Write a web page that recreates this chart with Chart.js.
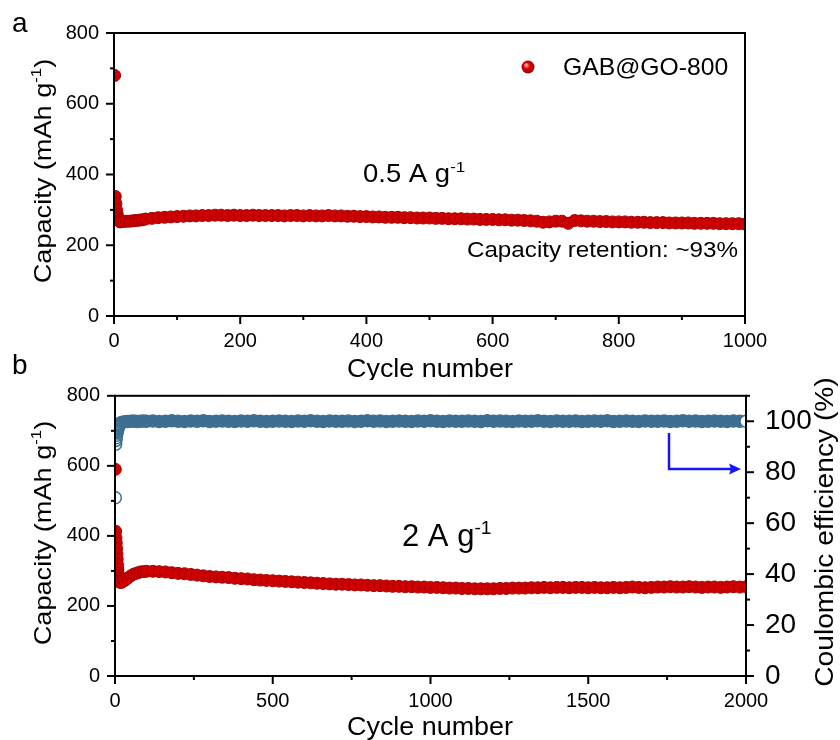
<!DOCTYPE html>
<html>
<head>
<meta charset="utf-8">
<script src="https://cdn.jsdelivr.net/npm/chart.js@4.4.0/dist/chart.umd.min.js"></script>
<style>
  html, body { margin: 0; padding: 0; background: #fff; }
  #wrap { position: relative; width: 840px; height: 740px; overflow: hidden; }
  .panel { position: absolute; left: 0; width: 840px; height: 380px; }
</style>
</head>
<body>
<div id="wrap">
  <div class="panel" style="top:0"><canvas id="chartA" width="840" height="380"></canvas></div>
  <div class="panel" style="top:360px"><canvas id="chartB" width="840" height="380"></canvas></div>
</div>
<script>
// ---- Data ----
// Panel a: 0.5 A g-1, 1000 cycles
const cyclesA = [1, 2, 3, 4, 5, 6, 7, 8, 9, 10, 15, 20, 25, 30, 35, 40, 45, 50,
  60, 70, 80, 90, 100, 110, 120, 130, 140, 150,
  160, 170, 180, 190, 200, 210, 220, 230, 240, 250,
  260, 270, 280, 290, 300, 310, 320, 330, 340, 350,
  360, 370, 380, 390, 400, 410, 420, 430, 440, 450,
  460, 470, 480, 490, 500, 510, 520, 530, 540, 550,
  560, 570, 580, 590, 600, 610, 620, 630, 640, 650,
  660, 670, 680, 690, 700, 710, 720, 730, 740, 750,
  760, 770, 780, 790, 800, 810, 820, 830, 840, 850,
  860, 870, 880, 890, 900, 910, 920, 930, 940, 950,
  960, 970, 980, 990, 1000];
const capacityA = [680, 338, 318, 300, 288, 280, 274, 270, 267, 266, 267, 268, 268, 269, 270, 271, 272, 274,
  276, 278, 279, 280, 281, 282, 283, 283, 284, 284,
  285, 285, 284, 285, 284, 284, 285, 284, 284, 284,
  284, 283, 284, 284, 283, 284, 283, 283, 284, 283,
  283, 282, 282, 281, 281, 280, 280, 279, 279, 279,
  278, 278, 277, 277, 277, 276, 276, 275, 275, 275,
  274, 274, 273, 273, 273, 272, 272, 271, 271, 270,
  269, 268, 265, 266, 268, 268, 262, 270, 269, 268,
  268, 267, 267, 266, 266, 266, 265, 265, 265, 264,
  264, 264, 263, 263, 263, 263, 262, 262, 262, 262,
  261, 261, 261, 261, 260];

// Panel b: 2 A g-1, 2000 cycles
const cyclesB = [1, 2, 3, 4, 5, 6, 7, 8, 9, 10, 11, 12, 13, 14, 15,
  20, 30, 40, 50, 60, 70, 80, 90, 100,
  120, 140, 160, 180, 200, 220, 240, 260, 280, 300,
  320, 340, 360, 380, 400, 420, 440, 460, 480, 500,
  520, 540, 560, 580, 600, 620, 640, 660, 680, 700,
  720, 740, 760, 780, 800, 820, 840, 860, 880, 900,
  920, 940, 960, 980, 1000, 1020, 1040, 1060, 1080, 1100,
  1120, 1140, 1160, 1180, 1200, 1220, 1240, 1260, 1280, 1300,
  1320, 1340, 1360, 1380, 1400, 1420, 1440, 1460, 1480, 1500,
  1520, 1540, 1560, 1580, 1600, 1620, 1640, 1660, 1680, 1700,
  1720, 1740, 1760, 1780, 1800, 1820, 1840, 1860, 1880, 1900,
  1920, 1940, 1960, 1980, 2000];
const capacityB = [590, 413, 395, 380, 364, 348, 333, 318, 305, 294, 285, 278, 273, 270, 268,
  267, 272, 279, 286, 291, 294, 297, 298, 299,
  299, 298, 297, 295, 293, 292, 290, 288, 286, 284,
  283, 282, 281, 279, 278, 277, 275, 274, 273, 272,
  271, 270, 269, 268, 267, 266, 265, 264, 263, 262,
  262, 261, 260, 260, 259, 258, 258, 257, 256, 256,
  255, 255, 254, 254, 253, 253, 252, 251, 251, 250,
  250, 249, 249, 249, 249, 250, 250, 251, 251, 251,
  252, 252, 253, 252, 253, 253, 252, 253, 253, 252,
  253, 252, 252, 253, 252, 253, 254, 253, 252, 253,
  254, 254, 255, 254, 254, 255, 254, 253, 254, 254,
  253, 254, 255, 254, 255];
const efficiencyB = [70, 91, 92.5, 93.5, 94.5, 95.5, 96, 96.5, 97, 97.5, 98, 98.3, 98.6, 98.9, 99.1,
  99.5, 99.8, 99.9, 100, 100.1, 99.9, 100, 100.1, 100,
  100.1, 99.9, 100, 100.2, 100, 99.9, 100.1, 100, 100.2, 99.9,
  100, 100.1, 100, 99.9, 100.1, 100, 100.2, 100, 99.9, 100,
  100.1, 100, 99.9, 100.1, 100, 100.2, 100, 99.9, 100.1, 100,
  100, 100.1, 99.9, 100, 100.2, 100, 100.1, 99.9, 100, 100.1,
  100, 99.9, 100.1, 100, 100.2, 100, 99.9, 100.1, 100, 100,
  100.1, 100, 99.9, 100.2, 100, 100.1, 100, 99.9, 100.1, 100,
  100, 100.2, 100, 99.9, 100.1, 100, 100, 100.1, 99.9, 100,
  100.1, 100, 100.2, 99.9, 100, 100.1, 100, 99.9, 100.1, 100,
  100, 100.1, 99.9, 100, 100.2, 100, 100.1, 99.9, 100, 100.1,
  100, 99.9, 100.1, 100, 100];

// ---- Style ----
const FONT = '"Liberation Sans", Arial, Helvetica, sans-serif';
const RED = '#d00000';
const RED_EDGE = '#a00000';
const BLUE = '#3d6f93';

const toPoints = (xs, ys) => xs.map((x, i) => ({ x, y: ys[i] }));

// Text with optional superscript parts, stretched along its reading direction
function drawRich(ctx, parts, x, y, o) {
  const size = o.size;
  ctx.save();
  ctx.translate(x, y);
  if (o.rot) ctx.rotate(o.rot);
  ctx.scale(o.stretch || 1, 1);
  ctx.fillStyle = '#000';
  ctx.textBaseline = 'alphabetic';
  ctx.textAlign = 'left';
  let w = 0;
  const items = parts.map(p => {
    const s = p.sup ? size * 0.62 : size;
    ctx.font = s + 'px ' + FONT;
    const pw = ctx.measureText(p.t).width;
    w += pw;
    return { t: p.t, s, pw, dy: p.sup ? -size * 0.4 : 0 };
  });
  let cx = o.align === 'center' ? -w / 2 : o.align === 'right' ? -w : 0;
  items.forEach(it => {
    ctx.font = it.s + 'px ' + FONT;
    ctx.fillText(it.t, cx, it.dy);
    cx += it.pw;
  });
  ctx.restore();
}

// Frame box + outward major/minor ticks from the chart's own scales
const framePlugin = {
  id: 'frame',
  afterDraw(chart) {
    const { ctx, chartArea: a } = chart;
    ctx.save();
    ctx.strokeStyle = '#000';
    ctx.lineWidth = 2;
    ctx.strokeRect(a.left, a.top, a.right - a.left, a.bottom - a.top);
    Object.values(chart.scales).forEach(sc => {
      sc.ticks.forEach(t => {
        const len = t.label === '' ? 4 : 8;
        const p = sc.getPixelForValue(t.value);
        ctx.beginPath();
        if (sc.axis === 'x') { ctx.moveTo(p, a.bottom); ctx.lineTo(p, a.bottom + len); }
        else if (sc.position === 'left') { ctx.moveTo(a.left, p); ctx.lineTo(a.left - len, p); }
        else { ctx.moveTo(a.right, p); ctx.lineTo(a.right + len, p); }
        ctx.stroke();
      });
    });
    ctx.restore();
  }
};

function xAxis(max, step, every) {
  return {
    type: 'linear', min: 0, max: max,
    grid: { display: false, drawTicks: false, tickLength: 0 },
    border: { display: false },
    ticks: {
      stepSize: step, autoSkip: false, maxRotation: 0, padding: 13,
      color: '#000', font: { family: FONT, size: 20 },
      callback: v => (v % every === 0 ? v : '')
    },
    afterFit: s => { s.height = 64; }
  };
}

function yAxis() {
  return {
    type: 'linear', position: 'left', min: 0, max: 800,
    grid: { display: false, drawTicks: false, tickLength: 0 },
    border: { display: false },
    ticks: {
      stepSize: 100, autoSkip: false, padding: 15,
      color: '#000', font: { family: FONT, size: 20 },
      callback: v => (v % 200 === 0 ? v : '')
    },
    afterFit: s => { s.width = 114; }
  };
}

const capTitle = [{ t: 'Capacity (mAh g' }, { t: '-1', sup: true }, { t: ')' }];

// ---- Panel a ----
const textA = {
  id: 'textA',
  afterDraw(chart) {
    const ctx = chart.ctx;
    drawRich(ctx, [{ t: 'a' }], 12, 32, { size: 28 });
    drawRich(ctx, [{ t: 'b' }], 12, 374, { size: 28 });
    drawRich(ctx, capTitle, 51, 171, { size: 24, stretch: 1.13, rot: -Math.PI / 2, align: 'center' });
    drawRich(ctx, [{ t: 'Cycle number' }], 430, 377, { size: 25, stretch: 1.076, align: 'center' });
    drawRich(ctx, [{ t: '0.5 A g' }, { t: '-1', sup: true }], 363, 182, { size: 25, stretch: 1.1 });
    drawRich(ctx, [{ t: 'Capacity retention: ~93%' }], 738, 257, { size: 22, stretch: 1.1, align: 'right' });
    // legend
    const g = ctx.createRadialGradient(526, 65, 1, 528, 67, 7);
    g.addColorStop(0, '#ff9a9a');
    g.addColorStop(0.35, '#e00000');
    g.addColorStop(1, '#900000');
    ctx.save();
    ctx.fillStyle = g;
    ctx.beginPath();
    ctx.arc(528, 67, 6.5, 0, Math.PI * 2);
    ctx.fill();
    ctx.restore();
    drawRich(ctx, [{ t: 'GAB@GO-800' }], 563, 75, { size: 24, stretch: 1.03 });
  }
};

new Chart(document.getElementById('chartA'), {
  type: 'scatter',
  data: {
    datasets: [{
      label: 'GAB@GO-800',
      data: toPoints(cyclesA, capacityA),
      pointRadius: 6, pointBorderWidth: 1,
      pointBackgroundColor: RED, pointBorderColor: RED_EDGE,
      showLine: false, clip: 1
    }]
  },
  options: {
    responsive: false, animation: false,
    layout: { padding: { top: 33, right: 95, left: 0, bottom: 0 } },
    plugins: { legend: { display: false }, tooltip: { enabled: false } },
    scales: { x: xAxis(1000, 100, 200), y: yAxis() }
  },
  plugins: [framePlugin, textA]
});

// ---- Panel b ----
const textB = {
  id: 'textB',
  afterDraw(chart) {
    const ctx = chart.ctx;
    drawRich(ctx, capTitle, 51, 173, { size: 24, stretch: 1.13, rot: -Math.PI / 2, align: 'center' });
    drawRich(ctx, [{ t: 'Cycle number' }], 430, 375, { size: 25, stretch: 1.076, align: 'center' });
    drawRich(ctx, [{ t: '2 A g' }, { t: '-1', sup: true }], 402, 186, { size: 31 });
    drawRich(ctx, [{ t: 'Coulombic efficiency (%)' }], 833, 172, { size: 25, stretch: 1.127, rot: -Math.PI / 2, align: 'center' });
    // arrow pointing to the right axis
    ctx.save();
    ctx.strokeStyle = '#1414ff';
    ctx.fillStyle = '#1414ff';
    ctx.lineWidth = 2.5;
    ctx.beginPath();
    ctx.moveTo(669, 73);
    ctx.lineTo(669, 109);
    ctx.lineTo(731, 109);
    ctx.stroke();
    ctx.beginPath();
    ctx.moveTo(741, 109);
    ctx.lineTo(729, 103.5);
    ctx.lineTo(731, 109);
    ctx.lineTo(729, 114.5);
    ctx.closePath();
    ctx.fill();
    ctx.restore();
  }
};

const yB = yAxis();
yB.afterFit = s => { s.width = 115; };

// dense overlapping open circles read as a solid band; first cycles and the last stay open
const ceFill = c => {
  if (c.dataIndex === efficiencyB.length - 1) return '#ffffff';
  return c.dataIndex < 16 ? 'rgba(255,255,255,0)' : BLUE;
};

new Chart(document.getElementById('chartB'), {
  type: 'scatter',
  data: {
    datasets: [{
      label: 'Capacity',
      data: toPoints(cyclesB, capacityB),
      yAxisID: 'y',
      pointRadius: 6, pointBorderWidth: 1,
      pointBackgroundColor: RED, pointBorderColor: RED_EDGE,
      showLine: false, clip: 1
    }, {
      label: 'Coulombic efficiency',
      data: toPoints(cyclesB, efficiencyB),
      yAxisID: 'y1',
      pointRadius: 6, pointBorderWidth: 1.5,
      pointBackgroundColor: ceFill, pointBorderColor: BLUE,
      showLine: false, clip: 1
    }]
  },
  options: {
    responsive: false, animation: false,
    layout: { padding: { top: 33, right: 0, left: 0, bottom: 0 } },
    plugins: { legend: { display: false }, tooltip: { enabled: false } },
    scales: {
      x: xAxis(2000, 250, 500),
      y: yB,
      y1: {
        type: 'linear', position: 'right', min: 0, max: 110,
        grid: { display: false, drawTicks: false, tickLength: 0 },
        border: { display: false },
        ticks: {
          stepSize: 10, autoSkip: false, padding: 19,
          color: '#000', font: { family: FONT, size: 28 },
          callback: v => (v % 20 === 0 && v <= 100 ? v : '')
        },
        afterFit: s => { s.width = 94; }
      }
    }
  },
  plugins: [framePlugin, textB]
});
</script>
</body>
</html>
